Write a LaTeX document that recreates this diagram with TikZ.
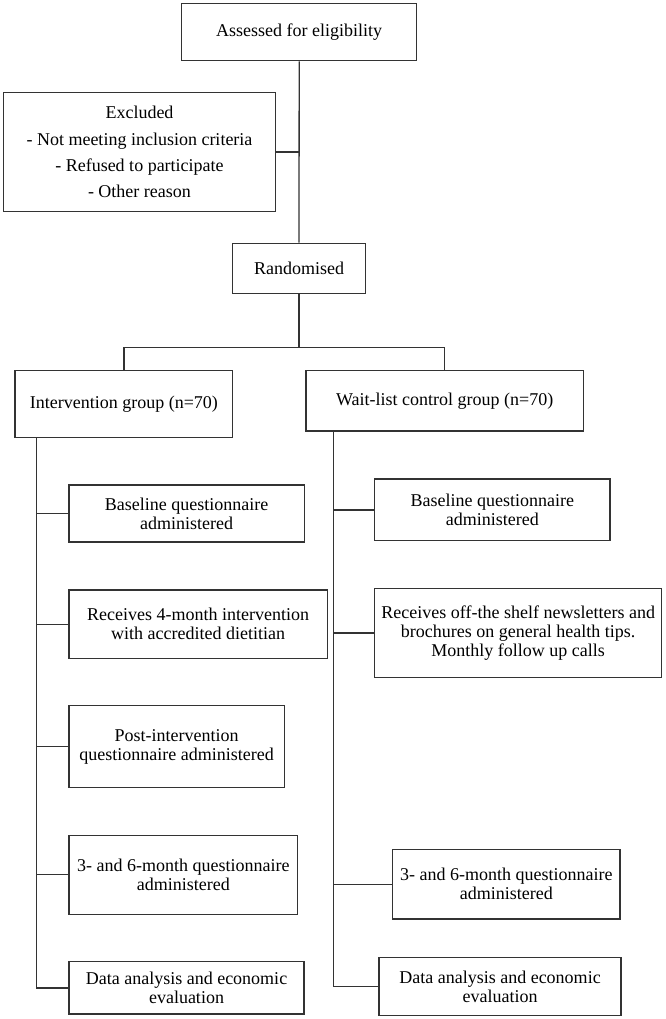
\documentclass[tikz,border=0pt]{standalone}
\usepackage{fontspec}
\setmainfont{Liberation Serif}
\begin{document}
\begin{tikzpicture}[x=1pt,y=-1pt,
  box/.style={draw=black!80,line width=1.3pt,inner sep=0pt,align=center,
    font=\fontsize{18}{19}\selectfont,text=black},
  link/.style={draw=black!80,line width=1.3pt}]
\useasboundingbox (0,0) rectangle (665,1019);
% top part
\node[box,minimum width=235pt,minimum height=57.4pt] (top) at (299.2,32) {Assessed for eligibility};
\node[box,minimum width=272.4pt,minimum height=118.6pt,font=\fontsize{18}{26.2}\selectfont] (excl) at (139.5,152)
  {Excluded\\- Not meeting inclusion criteria\\- Refused to participate\\- Other reason};
\node[box,minimum width=132.6pt,minimum height=50pt] (rand) at (299,268.3) {Randomised};
% groups
\node[box,minimum width=217.7pt,minimum height=67pt] (int) at (123.85,404.2) {Intervention group (n=70)};
\node[box,minimum width=277.3pt,minimum height=60.3pt] (wait) at (444.65,400.85) {Wait-list control group (n=70)};
% left column
\node[box,minimum width=235.3pt,minimum height=57pt] (L1) at (186.65,513.5) {Baseline questionnaire\\administered};
\node[box,minimum width=258.3pt,minimum height=68.3pt] (L2) at (198.15,624.15) {Receives 4-month intervention\\with accredited dietitian};
\node[box,minimum width=215.3pt,minimum height=81.6pt] (L3) at (176.65,746.5) {Post-intervention\\questionnaire administered};
\node[box,minimum width=228.7pt,minimum height=79pt] (L4) at (183.35,874.8) {3- and 6-month questionnaire\\administered};
\node[box,minimum width=235pt,minimum height=52.3pt] (L5) at (186.5,987.85) {Data analysis and economic\\evaluation};
% right column
\node[box,minimum width=235.3pt,minimum height=61.7pt] (R1) at (492.35,509.85) {Baseline questionnaire\\administered};
\node[box,minimum width=287pt,minimum height=89.4pt] (R2) at (518.2,633) {Receives off-the shelf newsletters and\\brochures on general health tips.\\Monthly follow up calls};
\node[box,minimum width=227.3pt,minimum height=69.7pt] (R3) at (506.35,884.15) {3- and 6-month questionnaire\\administered};
\node[box,minimum width=242pt,minimum height=58.4pt] (R4) at (500,986.5) {Data analysis and economic\\evaluation};
% connectors top
\draw[link] (top.south) -- (rand.north);
\draw[link] (excl.east) -- (excl.east -| top.south);
\coordinate (split) at ([yshift=-53.4pt]rand.south);
\draw[link] (rand.south) -- (split);
\draw[link] (int.north) |- (split) -| (wait.north);
% left spine
\coordinate (lt) at ([xshift=22.3pt]int.south west);
\draw[link] (lt) |- (L5.west);
\foreach \n in {L1,L2,L3,L4} \draw[link] (lt |- \n.west) -- (\n.west);
% right spine
\coordinate (rt) at ([xshift=28pt]wait.south west);
\draw[link] (rt) |- (R4.west);
\foreach \n in {R1,R2,R3} \draw[link] (rt |- \n.west) -- (\n.west);
\end{tikzpicture}
\end{document}
